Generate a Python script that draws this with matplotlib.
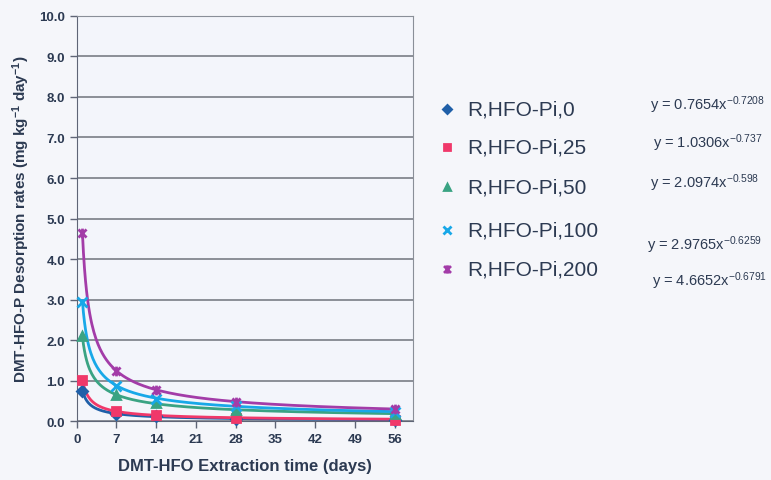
import numpy as np
import matplotlib.pyplot as plt
from matplotlib.path import Path

# 字型設定 (Arial 類)
plt.rcParams['font.family'] = ['Liberation Sans', 'DejaVu Sans']
plt.rcParams['mathtext.fontset'] = 'custom'
plt.rcParams['mathtext.rm'] = 'Liberation Sans'
plt.rcParams['mathtext.bf'] = 'Liberation Sans:bold'
plt.rcParams['mathtext.it'] = 'Liberation Sans:italic'

# 萃取天數 (days)
days = [1, 7, 14, 28, 56]

# 各處理的脫附速率 (mg kg-1 day-1)，由圖讀值
pi_0 = [0.75, 0.18, 0.12, 0.05, 0.03]
pi_25 = [1.02, 0.25, 0.15, 0.07, 0.03]
pi_50 = [2.10, 0.65, 0.45, 0.28, 0.17]
pi_100 = [2.95, 0.88, 0.56, 0.38, 0.22]
pi_200 = [4.65, 1.24, 0.77, 0.48, 0.30]

labels = ['R,HFO-Pi,0', 'R,HFO-Pi,25', 'R,HFO-Pi,50', 'R,HFO-Pi,100', 'R,HFO-Pi,200']

# 冪次趨勢線 y = a x^b
coef_a = [0.7654, 1.0306, 2.0974, 2.9765, 4.6652]
coef_b = [-0.7208, -0.737, -0.598, -0.6259, -0.6791]
coef_b_txt = ['-0.7208', '-0.737', '-0.598', '-0.6259', '-0.6791']

# Excel 的 star 標記：x 加一條直線
star = Path([(-1, -1), (1, 1), (-1, 1), (1, -1), (0, -1.2), (0, 1.2)],
            [Path.MOVETO, Path.LINETO, Path.MOVETO, Path.LINETO, Path.MOVETO, Path.LINETO])

colors = ['#1f5fa8', '#f0386a', '#3aa383', '#18a8e8', '#a33ca8']
markers = ['D', 's', '^', 'x', star]
msizes = [5, 6, 6, 7, 7]

ink = '#2c3a52'
bg = '#f5f6fa'

fig = plt.figure(figsize=(7.71, 4.81), dpi=100, facecolor=bg)
ax = fig.add_axes([0.0995, 0.122, 0.436, 0.843])
ax.set_facecolor('#f3f5fb')

series = [pi_0, pi_25, pi_50, pi_100, pi_200]
xx = np.linspace(1, 56, 300)
for i, ys in enumerate(series):
    ax.plot(xx, coef_a[i] * xx ** coef_b[i], color=colors[i], lw=2, zorder=2)
    ax.plot(days, ys, linestyle='none', marker=markers[i], ms=msizes[i],
            color=colors[i], mew=2, zorder=3, clip_on=False)

ax.set_xlim(0, 59.2)
ax.set_ylim(0, 10)
ax.set_xticks(np.arange(0, 57, 7))
ax.set_yticks(np.arange(0, 10.1, 1))
ax.set_yticklabels([f'{v:.1f}' for v in np.arange(0, 10.1, 1)])
ax.yaxis.grid(True, color='#6f737c', lw=1.1)
ax.set_axisbelow(True)
for s in ax.spines.values():
    s.set_color('#8a8f98')
ax.spines['left'].set_color('#5f6576')
ax.spines['bottom'].set_color('#5f6576')
ax.tick_params(colors='#5f6576', labelcolor=ink, length=5, width=1, labelsize=9.5)
for t in ax.get_xticklabels() + ax.get_yticklabels():
    t.set_fontweight('bold')

ax.set_xlabel('DMT-HFO Extraction time (days)', fontsize=12, fontweight='bold',
              color=ink, labelpad=9)
ax.set_ylabel('DMT-HFO-P Desorption rates (mg kg$^{\\mathbf{-1}}$ day$^{\\mathbf{-1}}$)',
              fontsize=11, fontweight='bold', color=ink, labelpad=5)

# 圖例
leg_y = [110, 148, 188, 231, 270]
for i in range(5):
    yf = 1 - leg_y[i] / 481
    fig.lines.append(plt.Line2D([447 / 771], [yf], transform=fig.transFigure,
                                marker=markers[i], ms=msizes[i] - 1, mew=2,
                                color=colors[i], linestyle='none'))
    fig.text(467 / 771, yf, labels[i], fontsize=15, color=ink, va='center', ha='left')

# 趨勢線方程式
eq_x = [650, 653, 650, 647, 652]
eq_y = [105, 143, 183, 245, 281]
for i in range(5):
    fig.text(eq_x[i] / 771, 1 - eq_y[i] / 481,
             f'y = {coef_a[i]}x$^{{{coef_b_txt[i]}}}$',
             fontsize=10.5, color=ink, va='center', ha='left')

fig.savefig('out.png', dpi=100, facecolor=bg)
